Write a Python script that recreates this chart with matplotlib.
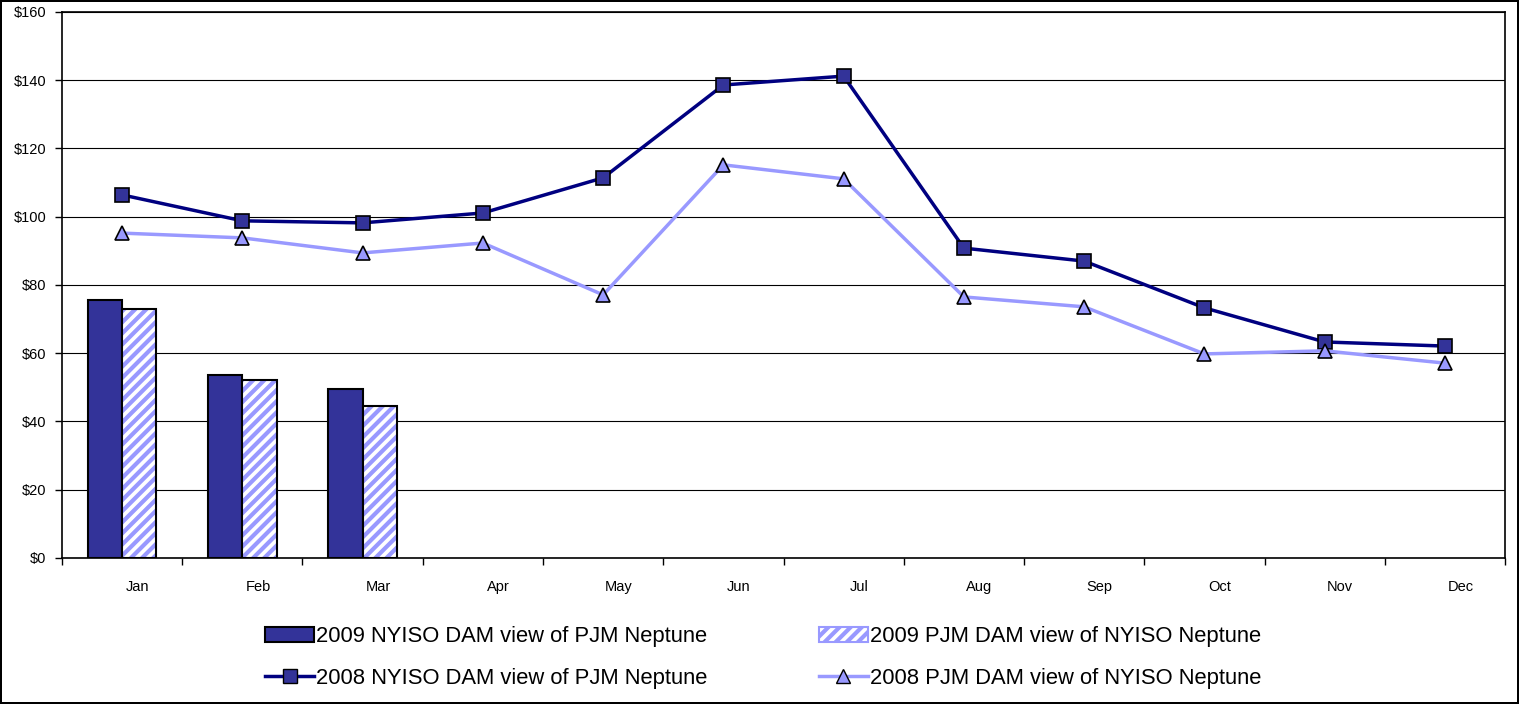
import numpy as np
import matplotlib
matplotlib.use("Agg")
from matplotlib import pyplot as plt
from matplotlib.lines import Line2D
from matplotlib.patches import Patch

plt.rcParams['font.family'] = ['Liberation Sans', 'DejaVu Sans']
plt.rcParams['hatch.linewidth'] = 3.0

months = ["Jan", "Feb", "Mar", "Apr", "May", "Jun",
          "Jul", "Aug", "Sep", "Oct", "Nov", "Dec"]
nyiso_2009 = [75.5, 53.6, 49.6]
pjm_2009 = [73.0, 52.2, 44.6]
nyiso_2008 = [106.4, 98.8, 98.2, 101.1, 111.4, 138.6,
              141.2, 90.8, 87.0, 73.3, 63.3, 62.1]
pjm_2008 = [95.2, 93.8, 89.4, 92.3, 77.1, 115.2,
            111.1, 76.5, 73.6, 59.8, 60.7, 57.1]
yticks = [0, 20, 40, 60, 80, 100, 120, 140, 160]

dark = "#333399"
navy = "#000080"
light = "#9999FF"

fig = plt.figure(figsize=(15.19, 7.04), dpi=100)
fig.patch.set_edgecolor("black")
fig.patch.set_linewidth(1.5)
ax = fig.add_axes([0.0408, 0.2074, 0.9500, 0.7756])

x = np.arange(len(months))
w = 0.285
x09 = np.arange(len(nyiso_2009))
ax.bar(x09 - w / 2, nyiso_2009, w, color=dark, edgecolor="black", linewidth=1.5, zorder=3)
ax.bar(x09 + w / 2, pjm_2009, w, color="white", edgecolor=light, hatch="///", linewidth=0, zorder=3)
ax.bar(x09 + w / 2, pjm_2009, w, fill=False, edgecolor="black", linewidth=1.5, zorder=3)

ax.plot(x, nyiso_2008, color=navy, linewidth=2.5, marker="s", markersize=10,
        markerfacecolor=dark, markeredgecolor="black", markeredgewidth=1.2, zorder=4)
ax.plot(x, pjm_2008, color=light, linewidth=2.5, marker="^", markersize=10,
        markerfacecolor=light, markeredgecolor="black", markeredgewidth=1.2, zorder=4)

ax.set_xlim(-0.5, 11.5)
ax.set_ylim(0, 160)
ax.set_yticks(yticks)
ax.set_yticklabels(["$%d" % v for v in yticks], fontsize=10.5)
ax.yaxis.grid(True, color="black", linewidth=0.8, zorder=0)
ax.set_axisbelow(True)

# tick marks between categories, labels shifted like Excel
ax.set_xticks(np.arange(len(months) + 1) - 0.5)
ax.set_xticklabels([])
ax.set_xticks(x + 0.13, minor=True)
ax.set_xticklabels(months, minor=True, fontsize=10.5)
ax.tick_params(axis="x", which="minor", length=0, pad=16)
ax.tick_params(axis="both", which="major", direction="out", length=5, width=1)
ax.tick_params(axis="y", pad=6)
for s in ax.spines.values():
    s.set_linewidth(1.2)

handles = [
    Patch(facecolor=dark, edgecolor="black", linewidth=1.5),
    Line2D([], [], color=navy, linewidth=2.5, marker="s", markersize=10,
           markerfacecolor=dark, markeredgecolor="black"),
    Patch(facecolor="white", edgecolor=light, hatch="///", linewidth=1.5),
    Line2D([], [], color=light, linewidth=2.5, marker="^", markersize=10,
           markerfacecolor=light, markeredgecolor="black"),
]
labels = ["2009 NYISO DAM view of PJM Neptune",
          "2008 NYISO DAM view of PJM Neptune",
          "2009 PJM DAM view of NYISO Neptune",
          "2008 PJM DAM view of NYISO Neptune"]
fig.legend(handles, labels, ncol=2, loc="center", bbox_to_anchor=(0.5025, 0.066),
           frameon=False, fontsize=15.8, columnspacing=5.1, handlelength=2.2,
           handletextpad=0.1, labelspacing=0.95)

fig.savefig("out.png", dpi=100)
